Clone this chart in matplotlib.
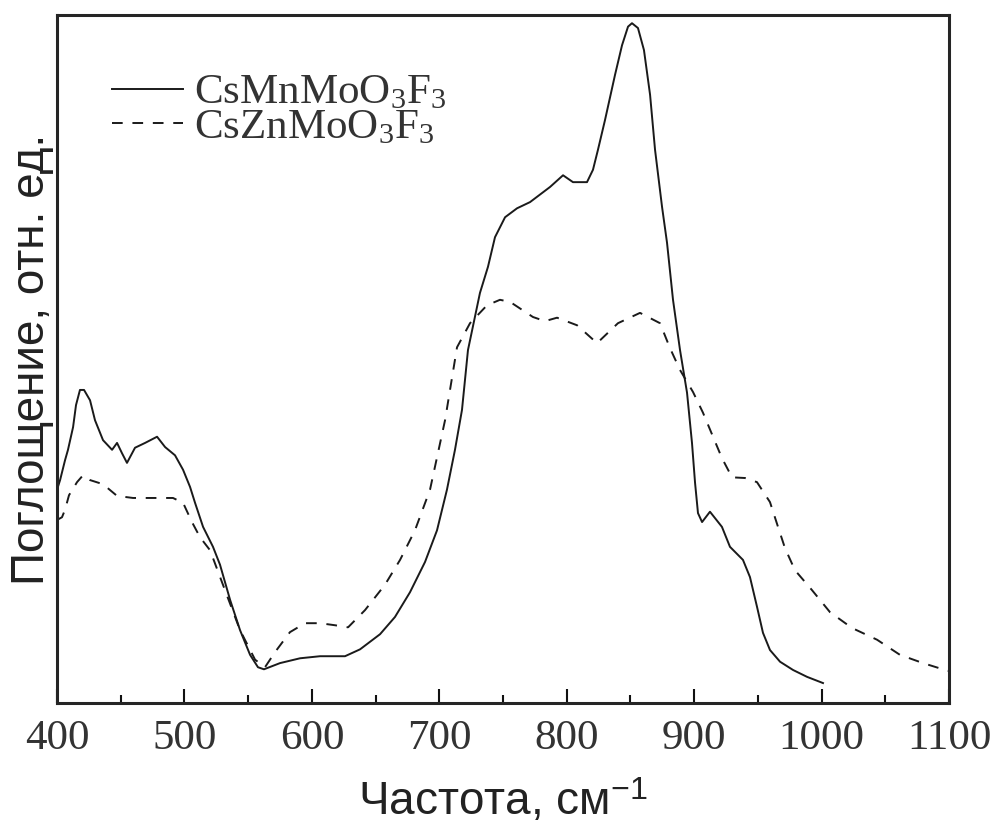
import matplotlib
matplotlib.use('Agg')
import matplotlib.pyplot as plt
import matplotlib.ticker as mtick

matplotlib.rcParams['mathtext.fontset'] = 'custom'
matplotlib.rcParams['mathtext.rm'] = 'Liberation Serif'
matplotlib.rcParams['mathtext.it'] = 'Liberation Serif:italic'
matplotlib.rcParams['mathtext.sf'] = 'Liberation Sans'

# CsMnMoO3F3 (solid)
mn_x = [400.0, 402.4, 406.3, 408.6, 412.6, 414.9, 418.0, 421.2, 425.9, 429.8,
        436.1, 443.2, 447.1, 451.0, 454.9, 461.2, 469.1, 478.5, 484.8, 492.6,
        498.9, 504.4, 508.3, 514.6, 522.4, 527.9, 535.8, 543.6, 551.5, 557.7,
        562.4, 575.0, 590.7, 606.4, 626.0, 637.8, 653.5, 665.2, 677.0, 688.8,
        698.2, 706.0, 712.3, 717.8, 722.5, 731.9, 738.2, 743.7, 751.6, 761.0,
        771.2, 786.9, 797.1, 804.9, 815.9, 820.6, 824.5, 830.0, 837.9, 843.4,
        848.1, 851.2, 855.9, 860.6, 865.4, 869.3, 874.8, 878.7, 883.4, 888.9,
        894.4, 898.3, 900.7, 903.0, 906.2, 912.4, 921.8, 928.1, 938.3, 943.8,
        949.3, 954.0, 959.5, 967.4, 977.6, 988.6, 1001.1]
mn_y = [31.0, 32.4, 35.3, 36.8, 40.1, 43.3, 45.5, 45.5, 44.0, 41.1,
        38.2, 36.8, 37.8, 36.3, 34.9, 37.1, 37.8, 38.7, 37.2, 36.0,
        33.9, 31.4, 29.1, 25.6, 22.7, 20.1, 15.0, 10.6, 7.0, 5.2,
        4.9, 5.8, 6.5, 6.8, 6.8, 7.8, 10.0, 12.5, 16.1, 20.5,
        25.1, 31.0, 36.8, 42.6, 51.3, 59.6, 63.4, 67.7, 70.6, 71.9,
        72.8, 75.0, 76.7, 75.7, 75.7, 77.5, 80.4, 84.7, 91.3, 95.6,
        98.3, 98.8, 98.1, 94.9, 88.4, 80.4, 72.1, 66.9, 58.6, 51.3,
        45.1, 37.8, 32.0, 27.6, 26.3, 27.8, 25.6, 22.7, 20.8, 18.3,
        14.0, 10.2, 7.7, 6.0, 4.8, 3.8, 2.9]

# CsZnMoO3F3 (dashed)
zn_x = [400.0, 403.9, 406.3, 409.4, 415.7, 420.4, 425.9, 436.1, 447.1, 459.6,
        473.0, 491.0, 498.9, 505.9, 512.2, 520.1, 531.8, 543.6, 555.4, 563.2,
        571.1, 582.8, 594.6, 606.4, 618.2, 628.4, 641.7, 657.4, 669.2, 680.9,
        692.7, 704.5, 713.9, 724.1, 737.4, 747.6, 755.5, 773.5, 782.9, 792.4,
        808.1, 823.8, 840.2, 857.5, 873.2, 881.0, 888.9, 899.1, 906.9, 914.8,
        921.8, 929.7, 939.9, 949.3, 959.5, 965.8, 971.3, 979.1, 992.5, 1006.6,
        1023.9, 1043.5, 1061.5, 1079.6, 1096.9, 1100.0]
zn_y = [26.6, 27.0, 28.1, 30.2, 32.1, 33.1, 32.4, 31.8, 30.1, 29.8,
        29.8, 29.8, 29.1, 26.3, 24.1, 22.2, 16.4, 10.6, 6.3, 5.2,
        7.4, 10.3, 11.6, 11.6, 11.3, 11.0, 13.5, 17.2, 20.8, 25.1,
        31.0, 41.1, 51.7, 55.2, 57.8, 58.6, 58.3, 56.1, 55.5, 56.0,
        54.9, 52.3, 55.2, 56.7, 55.2, 51.6, 48.4, 45.2, 42.2, 38.7,
        35.6, 32.8, 32.7, 32.1, 29.2, 25.6, 22.5, 19.3, 16.4, 13.2,
        10.9, 9.2, 7.0, 5.8, 4.8, 4.65]

labels = ['CsMnMoO$_3$F$_3$', 'CsZnMoO$_3$F$_3$']

fig = plt.figure(figsize=(9.9, 8.26), dpi=100)
ax = fig.add_axes([0.0576, 0.1489, 0.901, 0.833])

ax.plot(mn_x, mn_y, color='#1a1a1a', linewidth=1.4, label=labels[0])
ax.plot(zn_x, zn_y, color='#1a1a1a', linewidth=1.4, linestyle=(0, (5.5, 5)), label=labels[1])

ax.set_xlim(400, 1100)
ax.set_ylim(0, 100)

for s in ax.spines.values():
    s.set_linewidth(2.2)
    s.set_color('#252525')

ax.xaxis.set_major_locator(mtick.MultipleLocator(100))
ax.xaxis.set_minor_locator(mtick.MultipleLocator(50))
ax.tick_params(axis='x', which='major', direction='in', length=10, width=1.5,
               color='#111111', pad=12, labelsize=31, labelcolor='#333333')
ax.tick_params(axis='x', which='minor', direction='in', length=6, width=1.5, color='#111111')
ax.set_yticks([])
for t in ax.get_xticklabels():
    t.set_fontfamily('Liberation Serif')

ax.set_xlabel('Частота, см$^{\\mathsf{-1}}$', fontsize=33, fontfamily='Liberation Sans',
              color='#222222', labelpad=14)
ax.set_ylabel('Поглощение, отн. ед.', fontsize=33, fontfamily='Liberation Sans',
              color='#222222', labelpad=2)

leg = ax.legend(loc='upper left', bbox_to_anchor=(0.0617, 0.915), frameon=False,
                prop={'family': 'Liberation Serif', 'size': 31},
                handlelength=1.65, handletextpad=0.25, labelspacing=-0.1,
                borderpad=0, borderaxespad=0)
for t in leg.get_texts():
    t.set_color('#333333')

plt.savefig('out.png', dpi=100)
